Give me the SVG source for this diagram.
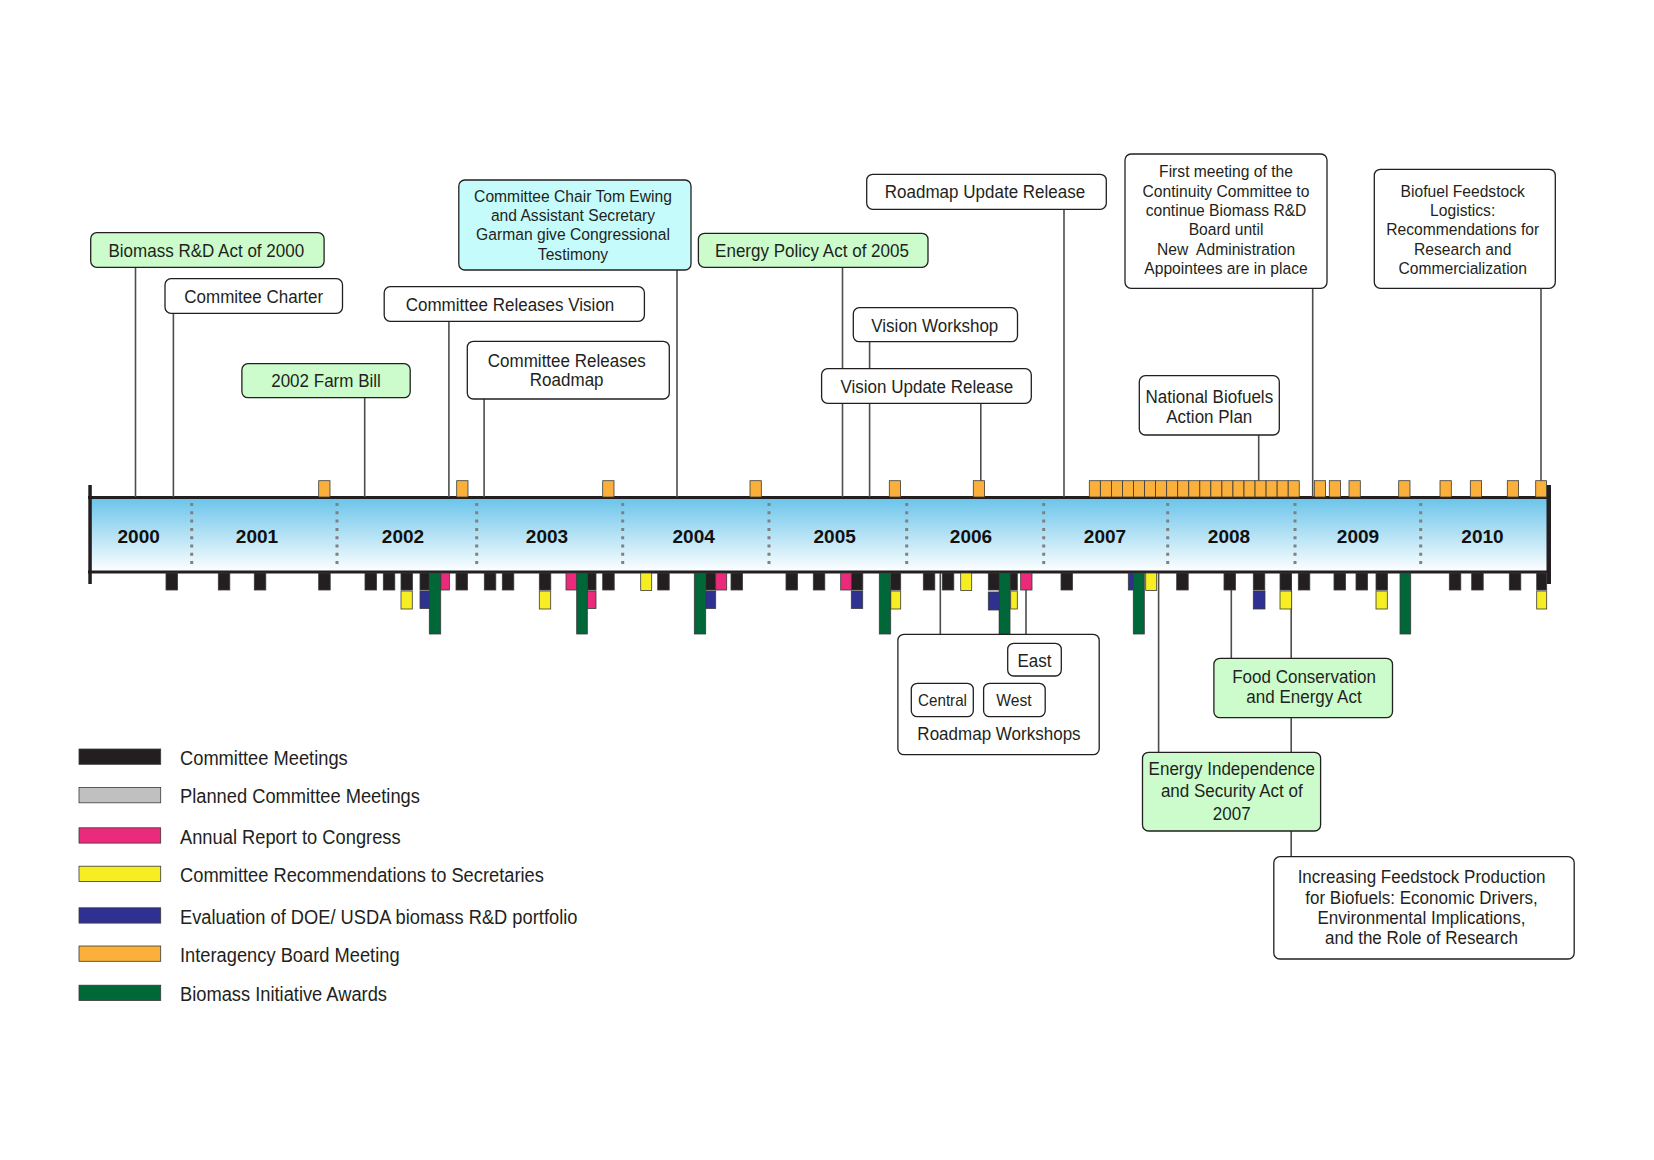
<svg xmlns="http://www.w3.org/2000/svg" width="1654" height="1160" viewBox="0 0 1654 1160">
<defs>
<linearGradient id="barg" x1="0" y1="0" x2="0" y2="1">
<stop offset="0" stop-color="#6ac4ea"/>
<stop offset="0.5" stop-color="#b4e2f5"/>
<stop offset="1" stop-color="#ffffff"/>
</linearGradient>
<style>
.bx{stroke:#231f20;stroke-width:1.3;fill:#fff}
.gn{fill:#ccfccc}
.cy{fill:#c6fbfb}
.t{font-family:"Liberation Sans",Arial,sans-serif;font-size:18.5px;fill:#231f20;text-anchor:middle}
.s{font-family:"Liberation Sans",Arial,sans-serif;font-size:17px;fill:#231f20;text-anchor:middle}
.lg{font-family:"Liberation Sans",Arial,sans-serif;font-size:20px;fill:#231f20}
.yr{font-family:"Liberation Sans",Arial,sans-serif;font-size:19px;font-weight:bold;fill:#111;text-anchor:middle}
.ln{stroke:#4d4d4d;stroke-width:1.6;fill:none}
.sep{stroke:#808080;stroke-width:3;stroke-dasharray:3 5.3}
.m rect{stroke:#3a3a3a;stroke-width:0.8}
.k{fill:#231f20}.o{fill:#fbb03b}.p{fill:#ec2a7b}.y{fill:#f6ee22}.b{fill:#2e3192}.g{fill:#006838}.gr{fill:#c0c0c0}
</style>
</defs>
<rect width="1654" height="1160" fill="#fff"/>

<g id="timeline-bar">
<rect x="90" y="498" width="1457" height="74" fill="url(#barg)"/>
<line x1="88" y1="497.5" x2="1548" y2="497.5" stroke="#231f20" stroke-width="3"/>
<line x1="88" y1="572" x2="1548" y2="572" stroke="#231f20" stroke-width="3"/>
<rect x="88.3" y="485" width="3.5" height="99" fill="#231f20"/>
<rect x="1546.5" y="485" width="4.5" height="99" fill="#231f20"/>
<g>
<line class="sep" x1="191.7" y1="503" x2="191.7" y2="567"/>
<line class="sep" x1="337" y1="503" x2="337" y2="567"/>
<line class="sep" x1="476.7" y1="503" x2="476.7" y2="567"/>
<line class="sep" x1="622.7" y1="503" x2="622.7" y2="567"/>
<line class="sep" x1="769" y1="503" x2="769" y2="567"/>
<line class="sep" x1="906.7" y1="503" x2="906.7" y2="567"/>
<line class="sep" x1="1043.7" y1="503" x2="1043.7" y2="567"/>
<line class="sep" x1="1167.7" y1="503" x2="1167.7" y2="567"/>
<line class="sep" x1="1295" y1="503" x2="1295" y2="567"/>
<line class="sep" x1="1420.7" y1="503" x2="1420.7" y2="567"/>
</g>
<text class="yr" x="138.7" y="543.3">2000</text>
<text class="yr" x="257" y="543.3">2001</text>
<text class="yr" x="403" y="543.3">2002</text>
<text class="yr" x="547" y="543.3">2003</text>
<text class="yr" x="693.7" y="543.3">2004</text>
<text class="yr" x="834.7" y="543.3">2005</text>
<text class="yr" x="971" y="543.3">2006</text>
<text class="yr" x="1105" y="543.3">2007</text>
<text class="yr" x="1229" y="543.3">2008</text>
<text class="yr" x="1358" y="543.3">2009</text>
<text class="yr" x="1482.5" y="543.3">2010</text>
</g>

<g id="connectors" class="ln">
<line x1="135.5" y1="267.3" x2="135.5" y2="497"/>
<line x1="173.4" y1="313.3" x2="173.4" y2="497"/>
<line x1="364.7" y1="397.7" x2="364.7" y2="497"/>
<line x1="448.9" y1="321.3" x2="448.9" y2="497"/>
<line x1="484.1" y1="399" x2="484.1" y2="497"/>
<line x1="677" y1="270" x2="677" y2="497"/>
<line x1="842.5" y1="267.3" x2="842.5" y2="497"/>
<line x1="869.6" y1="341.7" x2="869.6" y2="497"/>
<line x1="980.8" y1="403.3" x2="980.8" y2="480.7"/>
<line x1="1064" y1="209.3" x2="1064" y2="497"/>
<line x1="1258.7" y1="435" x2="1258.7" y2="480.7"/>
<line x1="1312.7" y1="288.3" x2="1312.7" y2="497"/>
<line x1="1541" y1="288.3" x2="1541" y2="480.7"/>
<line x1="940.3" y1="573" x2="940.3" y2="683.3"/>
<line x1="999.6" y1="573" x2="999.6" y2="683.3"/>
<line x1="1026" y1="573" x2="1026" y2="643.3"/>
<line x1="1158.6" y1="573" x2="1158.6" y2="752.3"/>
<line x1="1231.3" y1="573" x2="1231.3" y2="658.3"/>
<line x1="1291.2" y1="573" x2="1291.2" y2="856.7"/>
</g>

<g id="markers" class="m">
<g id="interagency-meetings">
<rect class="o" x="318.7" y="480.7" width="11.3" height="16.3"/>
<rect class="o" x="456.7" y="480.7" width="11.3" height="16.3"/>
<rect class="o" x="602.7" y="480.7" width="11.3" height="16.3"/>
<rect class="o" x="750" y="480.7" width="11.3" height="16.3"/>
<rect class="o" x="889.3" y="480.7" width="11.3" height="16.3"/>
<rect class="o" x="973.3" y="480.7" width="11.3" height="16.3"/>
<rect class="o" x="1089.3" y="480.7" width="11.05" height="16.3"/>
<rect class="o" x="1100.35" y="480.7" width="11.05" height="16.3"/>
<rect class="o" x="1111.4" y="480.7" width="11.05" height="16.3"/>
<rect class="o" x="1122.45" y="480.7" width="11.05" height="16.3"/>
<rect class="o" x="1133.5" y="480.7" width="11.05" height="16.3"/>
<rect class="o" x="1144.55" y="480.7" width="11.05" height="16.3"/>
<rect class="o" x="1155.6" y="480.7" width="11.05" height="16.3"/>
<rect class="o" x="1166.65" y="480.7" width="11.05" height="16.3"/>
<rect class="o" x="1177.7" y="480.7" width="11.05" height="16.3"/>
<rect class="o" x="1188.75" y="480.7" width="11.05" height="16.3"/>
<rect class="o" x="1199.8" y="480.7" width="11.05" height="16.3"/>
<rect class="o" x="1210.85" y="480.7" width="11.05" height="16.3"/>
<rect class="o" x="1221.9" y="480.7" width="11.05" height="16.3"/>
<rect class="o" x="1232.95" y="480.7" width="11.05" height="16.3"/>
<rect class="o" x="1244" y="480.7" width="11.05" height="16.3"/>
<rect class="o" x="1255.05" y="480.7" width="11.05" height="16.3"/>
<rect class="o" x="1266.1" y="480.7" width="11.05" height="16.3"/>
<rect class="o" x="1277.15" y="480.7" width="11.05" height="16.3"/>
<rect class="o" x="1288.2" y="480.7" width="11.05" height="16.3"/>
<rect class="o" x="1314.3" y="480.7" width="11.3" height="16.3"/>
<rect class="o" x="1329.3" y="480.7" width="11.3" height="16.3"/>
<rect class="o" x="1349" y="480.7" width="11.3" height="16.3"/>
<rect class="o" x="1398.7" y="480.7" width="11.3" height="16.3"/>
<rect class="o" x="1440" y="480.7" width="11.3" height="16.3"/>
<rect class="o" x="1470.3" y="480.7" width="11.3" height="16.3"/>
<rect class="o" x="1507.3" y="480.7" width="11.3" height="16.3"/>
<rect class="o" x="1535.7" y="480.7" width="10.8" height="16.3"/>
</g>
<g id="committee-meetings">
<rect class="k" x="166" y="573" width="11.5" height="17"/>
<rect class="k" x="218.3" y="573" width="11.5" height="17"/>
<rect class="k" x="254.3" y="573" width="11.5" height="17"/>
<rect class="k" x="318.7" y="573" width="11.5" height="17"/>
<rect class="k" x="365" y="573" width="11.5" height="17"/>
<rect class="k" x="383.3" y="573" width="11.5" height="17"/>
<rect class="k" x="401" y="573" width="11.5" height="17"/>
<rect class="k" x="420" y="573" width="9.3" height="17"/>
<rect class="k" x="456" y="573" width="11.5" height="17"/>
<rect class="k" x="484.3" y="573" width="11.5" height="17"/>
<rect class="k" x="502.3" y="573" width="11.5" height="17"/>
<rect class="k" x="539.3" y="573" width="11.5" height="17"/>
<rect class="k" x="587.3" y="573" width="8.7" height="17"/>
<rect class="k" x="602.7" y="573" width="11.5" height="17"/>
<rect class="k" x="657.7" y="573" width="11.5" height="17"/>
<rect class="k" x="705.7" y="573" width="10" height="17"/>
<rect class="k" x="731" y="573" width="11.5" height="17"/>
<rect class="k" x="786" y="573" width="11.5" height="17"/>
<rect class="k" x="813.3" y="573" width="11.5" height="17"/>
<rect class="k" x="851.3" y="573" width="11.5" height="17"/>
<rect class="k" x="890.7" y="573" width="10" height="17"/>
<rect class="k" x="923.3" y="573" width="11.5" height="17"/>
<rect class="k" x="942.3" y="573" width="11.5" height="17"/>
<rect class="k" x="988.3" y="573" width="11" height="17"/>
<rect class="k" x="1010" y="573" width="7.3" height="17"/>
<rect class="k" x="1061" y="573" width="11.5" height="17"/>
<rect class="k" x="1176.7" y="573" width="11.5" height="17"/>
<rect class="k" x="1224" y="573" width="11.5" height="17"/>
<rect class="k" x="1253.3" y="573" width="11.5" height="17"/>
<rect class="k" x="1280" y="573" width="11.5" height="17"/>
<rect class="k" x="1298.3" y="573" width="11.5" height="17"/>
<rect class="k" x="1334" y="573" width="11.5" height="17"/>
<rect class="k" x="1356" y="573" width="11.5" height="17"/>
<rect class="k" x="1376" y="573" width="11.5" height="17"/>
<rect class="k" x="1449.3" y="573" width="11.5" height="17"/>
<rect class="k" x="1471.7" y="573" width="11.5" height="17"/>
<rect class="k" x="1509.3" y="573" width="11.5" height="17"/>
<rect class="k" x="1536.7" y="573" width="10" height="17"/>
</g>
<g id="annual-reports">
<rect class="p" x="440.7" y="573" width="8.7" height="17"/>
<rect class="p" x="566" y="573" width="10.7" height="17"/>
<rect class="p" x="587.3" y="591" width="8.7" height="17.5"/>
<rect class="p" x="715.7" y="573" width="11" height="17"/>
<rect class="p" x="840.7" y="573" width="10.6" height="17"/>
<rect class="p" x="1020.7" y="573" width="11.3" height="17"/>
</g>
<g id="recommendations">
<rect class="y" x="401" y="591" width="11.3" height="18"/>
<rect class="y" x="539.3" y="591" width="11.4" height="18"/>
<rect class="y" x="640.7" y="573" width="11" height="17.5"/>
<rect class="y" x="890.7" y="591" width="10" height="18"/>
<rect class="y" x="960.7" y="573" width="11" height="17.5"/>
<rect class="y" x="1010.7" y="591" width="6.6" height="18"/>
<rect class="y" x="1145.7" y="573" width="11" height="17.5"/>
<rect class="y" x="1280" y="591" width="11.7" height="18"/>
<rect class="y" x="1376" y="591" width="11.3" height="18"/>
<rect class="y" x="1536.7" y="591" width="10" height="18"/>
</g>
<g id="evaluations">
<rect class="b" x="420" y="591" width="9.3" height="17.5"/>
<rect class="b" x="705.7" y="591" width="10" height="17.5"/>
<rect class="b" x="851.3" y="591" width="11.4" height="17.5"/>
<rect class="b" x="988.3" y="592" width="11" height="18"/>
<rect class="b" x="1128.3" y="573" width="5" height="17"/>
<rect class="b" x="1253.3" y="591" width="11.7" height="18"/>
</g>
<g id="awards">
<rect class="g" x="429.3" y="573" width="11.4" height="61"/>
<rect class="g" x="576.7" y="573" width="10.6" height="61"/>
<rect class="g" x="694.3" y="573" width="11.4" height="61"/>
<rect class="g" x="879.3" y="573" width="11.4" height="61"/>
<rect class="g" x="999.3" y="573" width="10.7" height="61"/>
<rect class="g" x="1133.3" y="573" width="11" height="61"/>
<rect class="g" x="1400" y="573" width="10.7" height="61"/>
</g>
</g>

<g id="node-biomass-act-2000">
<rect class="bx gn" x="90.7" y="232.7" width="233.4" height="34.6" rx="6"/>
<text class="t" transform="translate(206.3 256.7) scale(.92 1)">Biomass R&amp;D Act of 2000</text>
</g>
<g id="node-charter">
<rect class="bx" x="165" y="278.7" width="177.5" height="34.6" rx="6"/>
<text class="t" transform="translate(253.7 302.7) scale(.92 1)">Commitee Charter</text>
</g>
<g id="node-farm-bill">
<rect class="bx gn" x="241.9" y="363.7" width="168.3" height="34" rx="6"/>
<text class="t" transform="translate(326 387.3) scale(.92 1)">2002 Farm Bill</text>
</g>
<g id="node-releases-vision">
<rect class="bx" x="384.2" y="286.7" width="260.2" height="34.6" rx="6"/>
<text class="t" transform="translate(510 310.7) scale(.92 1)">Committee Releases Vision</text>
</g>
<g id="node-releases-roadmap">
<rect class="bx" x="467.3" y="341.3" width="202" height="57.7" rx="6"/>
<text class="t" transform="translate(566.7 366.7) scale(.92 1)"><tspan x="0">Committee Releases</tspan><tspan x="0" dy="19.3">Roadmap</tspan></text>
</g>
<g id="node-testimony">
<rect class="bx cy" x="458.8" y="180" width="232.2" height="90" rx="6"/>
<text class="s" transform="translate(573 201.7) scale(.92 1)"><tspan x="0">Committee Chair Tom Ewing</tspan><tspan x="0" dy="19.4">and Assistant Secretary</tspan><tspan x="0" dy="19.4">Garman give Congressional</tspan><tspan x="0" dy="19.4">Testimony</tspan></text>
</g>
<g id="node-energy-policy-2005">
<rect class="bx gn" x="698.4" y="233.3" width="229.6" height="34" rx="6"/>
<text class="t" transform="translate(812 256.7) scale(.92 1)">Energy Policy Act of 2005</text>
</g>
<g id="node-roadmap-update">
<rect class="bx" x="866.7" y="174.3" width="239.6" height="35" rx="6"/>
<text class="t" transform="translate(985 198.3) scale(.92 1)">Roadmap Update Release</text>
</g>
<g id="node-vision-workshop">
<rect class="bx" x="853.3" y="307.7" width="164.2" height="34" rx="6"/>
<text class="t" transform="translate(934.8 331.7) scale(.92 1)">Vision Workshop</text>
</g>
<g id="node-vision-update">
<rect class="bx" x="821.6" y="368.7" width="209.7" height="34.6" rx="6"/>
<text class="t" transform="translate(926.8 393.3) scale(.92 1)">Vision Update Release</text>
</g>
<g id="node-first-meeting">
<rect class="bx" x="1125" y="154" width="202" height="134.3" rx="6"/>
<text class="s" transform="translate(1226 177.3) scale(.92 1)"><tspan x="0">First meeting of the</tspan><tspan x="0" dy="19.4">Continuity Committee to</tspan><tspan x="0" dy="19.4">continue Biomass R&amp;D</tspan><tspan x="0" dy="19.4">Board until</tspan><tspan x="0" dy="19.4">New&#160; Administration</tspan><tspan x="0" dy="19.4">Appointees are in place</tspan></text>
</g>
<g id="node-feedstock-logistics">
<rect class="bx" x="1374.3" y="169.3" width="181" height="119" rx="6"/>
<text class="s" transform="translate(1462.7 196.7) scale(.92 1)"><tspan x="0">Biofuel Feedstock</tspan><tspan x="0" dy="19.4">Logistics:</tspan><tspan x="0" dy="19.4">Recommendations for</tspan><tspan x="0" dy="19.4">Research and</tspan><tspan x="0" dy="19.4">Commercialization</tspan></text>
</g>
<g id="node-national-biofuels">
<rect class="bx" x="1139.3" y="375.7" width="140" height="59.3" rx="6"/>
<text class="t" transform="translate(1209.3 403.3) scale(.92 1)"><tspan x="0">National Biofuels</tspan><tspan x="0" dy="20">Action Plan</tspan></text>
</g>
<g id="node-roadmap-workshops">
<rect class="bx" x="897.9" y="634.3" width="201.3" height="120.4" rx="6"/>
<text class="t" transform="translate(999 740) scale(.92 1)">Roadmap Workshops</text>
</g>
<g id="node-central">
<rect class="bx" x="911.3" y="683.3" width="62" height="33.4" rx="6"/>
<text class="t" style="font-size:16.5px" transform="translate(942.5 706) scale(.92 1)">Central</text>
</g>
<g id="node-west">
<rect class="bx" x="983.6" y="683.3" width="61.6" height="33.4" rx="6"/>
<text class="t" style="font-size:17px" transform="translate(1014 706) scale(.92 1)">West</text>
</g>
<g id="node-east">
<rect class="bx" x="1007.7" y="643.3" width="53.6" height="32.7" rx="6"/>
<text class="t" transform="translate(1034.5 666.7) scale(.92 1)">East</text>
</g>
<g id="node-food-conservation">
<rect class="bx gn" x="1213.9" y="658.3" width="178.6" height="59.4" rx="6"/>
<text class="t" transform="translate(1304 683.3) scale(.92 1)"><tspan x="0">Food Conservation</tspan><tspan x="0" dy="20">and Energy Act</tspan></text>
</g>
<g id="node-energy-independence">
<rect class="bx gn" x="1142.5" y="752.3" width="178.1" height="78.7" rx="6"/>
<text class="t" transform="translate(1231.8 775) scale(.92 1)"><tspan x="0">Energy Independence</tspan><tspan x="0" dy="22.5">and Security Act of</tspan><tspan x="0" dy="22.5">2007</tspan></text>
</g>
<g id="node-increasing-feedstock">
<rect class="bx" x="1273.8" y="856.7" width="300.4" height="102.3" rx="6"/>
<text class="t" transform="translate(1421.5 883.3) scale(.92 1)"><tspan x="0">Increasing Feedstock Production</tspan><tspan x="0" dy="20.3">for Biofuels: Economic Drivers,</tspan><tspan x="0" dy="20.3">Environmental Implications,</tspan><tspan x="0" dy="20.3">and the Role of Research</tspan></text>
</g>

<g id="legend" class="m">
<rect class="k" x="79" y="749" width="81.7" height="15.3"/>
<rect class="gr" x="79" y="787.5" width="81.7" height="15.3"/>
<rect class="p" x="79" y="827.8" width="81.7" height="15.3"/>
<rect class="y" x="79" y="866.2" width="81.7" height="15.3"/>
<rect class="b" x="79" y="907.8" width="81.7" height="15.3"/>
<rect class="o" x="79" y="946" width="81.7" height="15.3"/>
<rect class="g" x="79" y="985.2" width="81.7" height="15.3"/>
<text class="lg" transform="translate(180 764.7) scale(.915 1)">Committee Meetings</text>
<text class="lg" transform="translate(180 803.2) scale(.915 1)">Planned Committee Meetings</text>
<text class="lg" transform="translate(180 843.5) scale(.915 1)">Annual Report to Congress</text>
<text class="lg" transform="translate(180 881.8) scale(.915 1)">Committee Recommendations to Secretaries</text>
<text class="lg" transform="translate(180 923.5) scale(.915 1)">Evaluation of DOE/ USDA biomass R&amp;D portfolio</text>
<text class="lg" transform="translate(180 961.5) scale(.915 1)">Interagency Board Meeting</text>
<text class="lg" transform="translate(180 1000.8) scale(.915 1)">Biomass Initiative Awards</text>
</g>
</svg>
